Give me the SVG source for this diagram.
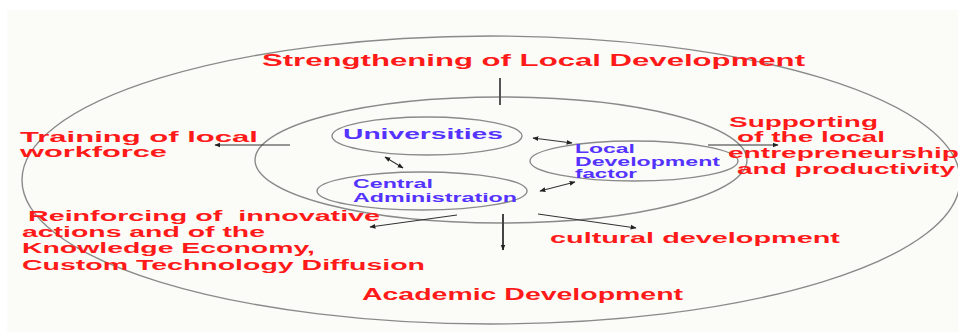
<svg xmlns="http://www.w3.org/2000/svg" width="958" height="336" viewBox="0 0 958 336">
<defs>
<marker id="ah" viewBox="0 0 10 10" refX="9" refY="5" markerWidth="6" markerHeight="6" orient="auto-start-reverse" markerUnits="userSpaceOnUse">
<path d="M0,1 L10,5 L0,9 Z" fill="#222"/>
</marker>
<style>
.ring{fill:none;stroke:#8a8a8a;stroke-width:1.4}
.node{fill:none;stroke:#8a8a8a;stroke-width:1.4}
.red{font-family:"Liberation Sans",Arial,sans-serif;font-weight:bold;fill:#ff1a1a}
.blue{font-family:"Liberation Sans",Arial,sans-serif;font-weight:bold;fill:#5533ff}
.con{fill:none;stroke:#333;stroke-width:1.1}
</style>
</defs>
<rect x="0" y="0" width="958" height="336" fill="#ffffff"/>
<rect x="7" y="10" width="951" height="322" fill="#fbfcf7"/>

<g id="rings">
<ellipse class="ring" cx="491" cy="180" rx="469" ry="144"/>
<ellipse class="ring" cx="501" cy="160" rx="246" ry="63"/>
</g>

<g id="connectors">
<line x1="500" y1="78" x2="500" y2="105" stroke="#555" stroke-width="2"/>
<line class="con" x1="290" y1="145" x2="215" y2="145" marker-end="url(#ah)"/>
<line class="con" x1="385" y1="157" x2="403" y2="168" marker-start="url(#ah)" marker-end="url(#ah)"/>
<line class="con" x1="533" y1="138" x2="572" y2="143" marker-start="url(#ah)" marker-end="url(#ah)"/>
<line class="con" x1="540" y1="191" x2="575" y2="182" marker-start="url(#ah)" marker-end="url(#ah)"/>
<line class="con" x1="708" y1="145" x2="778" y2="145" marker-end="url(#ah)"/>
<line class="con" x1="457" y1="215" x2="370" y2="227" marker-end="url(#ah)"/>
<line x1="503" y1="214" x2="503" y2="250" stroke="#444" stroke-width="2" marker-end="url(#ah)"/>
<line class="con" x1="538" y1="214" x2="636" y2="228" marker-end="url(#ah)"/>
</g>

<g id="universities">
<ellipse class="node" cx="427" cy="136" rx="95" ry="19"/>
<text class="blue" x="343" y="139" font-size="15" textLength="160" lengthAdjust="spacingAndGlyphs">Universities</text>
</g>

<g id="central-administration">
<ellipse class="node" cx="422" cy="191" rx="105" ry="19"/>
<text class="blue" x="353" y="188" font-size="12.5" textLength="80" lengthAdjust="spacingAndGlyphs">Central</text>
<text class="blue" x="353" y="202" font-size="12.5" textLength="164" lengthAdjust="spacingAndGlyphs">Administration</text>
</g>

<g id="local-development-factor">
<ellipse class="node" cx="634" cy="161" rx="104" ry="20"/>
<text class="blue" x="575" y="153" font-size="12" textLength="60" lengthAdjust="spacingAndGlyphs">Local</text>
<text class="blue" x="575" y="166" font-size="12" textLength="145" lengthAdjust="spacingAndGlyphs">Development</text>
<text class="blue" x="575" y="178" font-size="12" textLength="62" lengthAdjust="spacingAndGlyphs">factor</text>
</g>

<g id="strengthening">
<text class="red" x="262" y="66" font-size="16.5" textLength="543" lengthAdjust="spacingAndGlyphs">Strengthening of Local Development</text>
</g>

<g id="training">
<text class="red" x="20" y="142" font-size="15.5" textLength="238" lengthAdjust="spacingAndGlyphs">Training of local</text>
<text class="red" x="20" y="157" font-size="15.5" textLength="147" lengthAdjust="spacingAndGlyphs">workforce</text>
</g>

<g id="supporting">
<text class="red" x="729" y="127" font-size="15.5" textLength="149" lengthAdjust="spacingAndGlyphs">Supporting</text>
<text class="red" x="737" y="142" font-size="15.5" textLength="148" lengthAdjust="spacingAndGlyphs">of the local</text>
<text class="red" x="728" y="158" font-size="15.5" textLength="231" lengthAdjust="spacingAndGlyphs">entrepreneurship</text>
<text class="red" x="737" y="174" font-size="15.5" textLength="218" lengthAdjust="spacingAndGlyphs">and productivity</text>
</g>

<g id="reinforcing">
<text class="red" x="28" y="221" font-size="14.5" textLength="352" lengthAdjust="spacingAndGlyphs" xml:space="preserve">Reinforcing of  innovative</text>
<text class="red" x="22" y="237" font-size="14.5" textLength="243" lengthAdjust="spacingAndGlyphs">actions and of the</text>
<text class="red" x="22" y="253" font-size="14.5" textLength="293" lengthAdjust="spacingAndGlyphs">Knowledge Economy,</text>
<text class="red" x="22" y="270" font-size="14.5" textLength="403" lengthAdjust="spacingAndGlyphs">Custom Technology Diffusion</text>
</g>

<g id="cultural">
<text class="red" x="550" y="243" font-size="15.5" textLength="290" lengthAdjust="spacingAndGlyphs">cultural development</text>
</g>

<g id="academic">
<text class="red" x="362" y="300" font-size="16" textLength="321" lengthAdjust="spacingAndGlyphs">Academic Development</text>
</g>
</svg>
